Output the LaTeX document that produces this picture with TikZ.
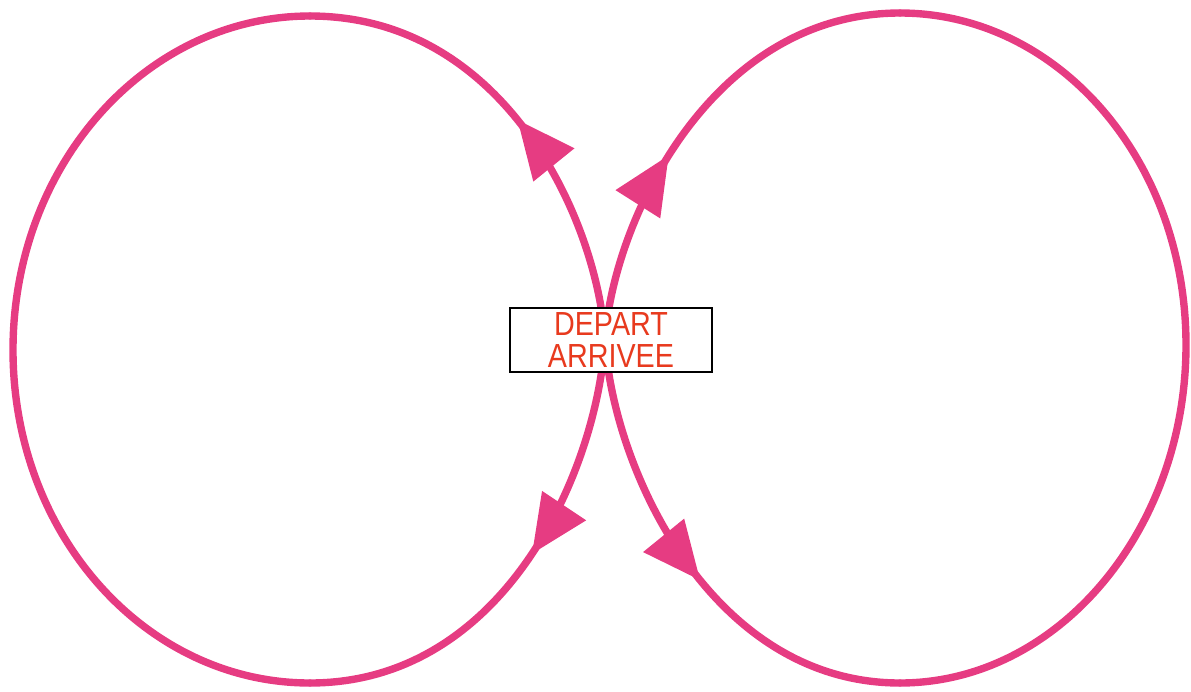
\documentclass[tikz,border=0pt]{standalone}
\usepackage{fontspec}
\usepackage{graphicx}
\setmainfont{Liberation Sans}
\usetikzlibrary{arrows.meta,decorations.markings}
\definecolor{loopcol}{RGB}{230,60,130}
\definecolor{lblcol}{RGB}{232,58,30}
\tikzset{
  loopline/.style={draw=loopcol, line width=4.2pt, line cap=round},
  arrowat/.style={postaction={decorate, decoration={markings,
      mark=at position #1 with {\arrow[loopcol]{Triangle[length=33pt,width=29pt]}}}}},
  labelbox/.style={draw=black, line width=1.1pt, fill=white, inner sep=0pt,
      minimum width=4.04cm, minimum height=1.28cm, align=center,
      text=lblcol, font=\fontsize{19pt}{18pt}\selectfont}
}
\begin{document}
\begin{tikzpicture}[x=0.02cm,y=-0.02cm]
\useasboundingbox (0,0) rectangle (1191,691);
\coordinate (C) at (605,340);
\coordinate (LT) at (310,16);
\coordinate (LL) at (13,350);
\coordinate (LB) at (310,683);
\coordinate (RT) at (900,13);
\coordinate (RR) at (1186,345);
\coordinate (RB) at (900,683);
% left loop
\draw[loopline, arrowat=0.5] (C) .. controls (597,220) and (505,16) .. (LT);
\draw[loopline] (LT) .. controls (146,16) and (13,165) .. (LL) .. controls (13,535) and (146,683) .. (LB);
\draw[loopline, arrowat=0.46] (C) .. controls (597,470) and (505,683) .. (LB);
% right loop
\draw[loopline, arrowat=0.41] (C) .. controls (613,220) and (712,13) .. (RT);
\draw[loopline] (RT) .. controls (1058,13) and (1186,160) .. (RR) .. controls (1186,530) and (1058,683) .. (RB);
\draw[loopline, arrowat=0.53] (C) .. controls (613,470) and (712,683) .. (RB);
\node[labelbox] (box) at (611,340) {\scalebox{0.86}[1]{DEPART}\\\scalebox{0.86}[1]{ARRIVEE}};
\end{tikzpicture}
\end{document}
